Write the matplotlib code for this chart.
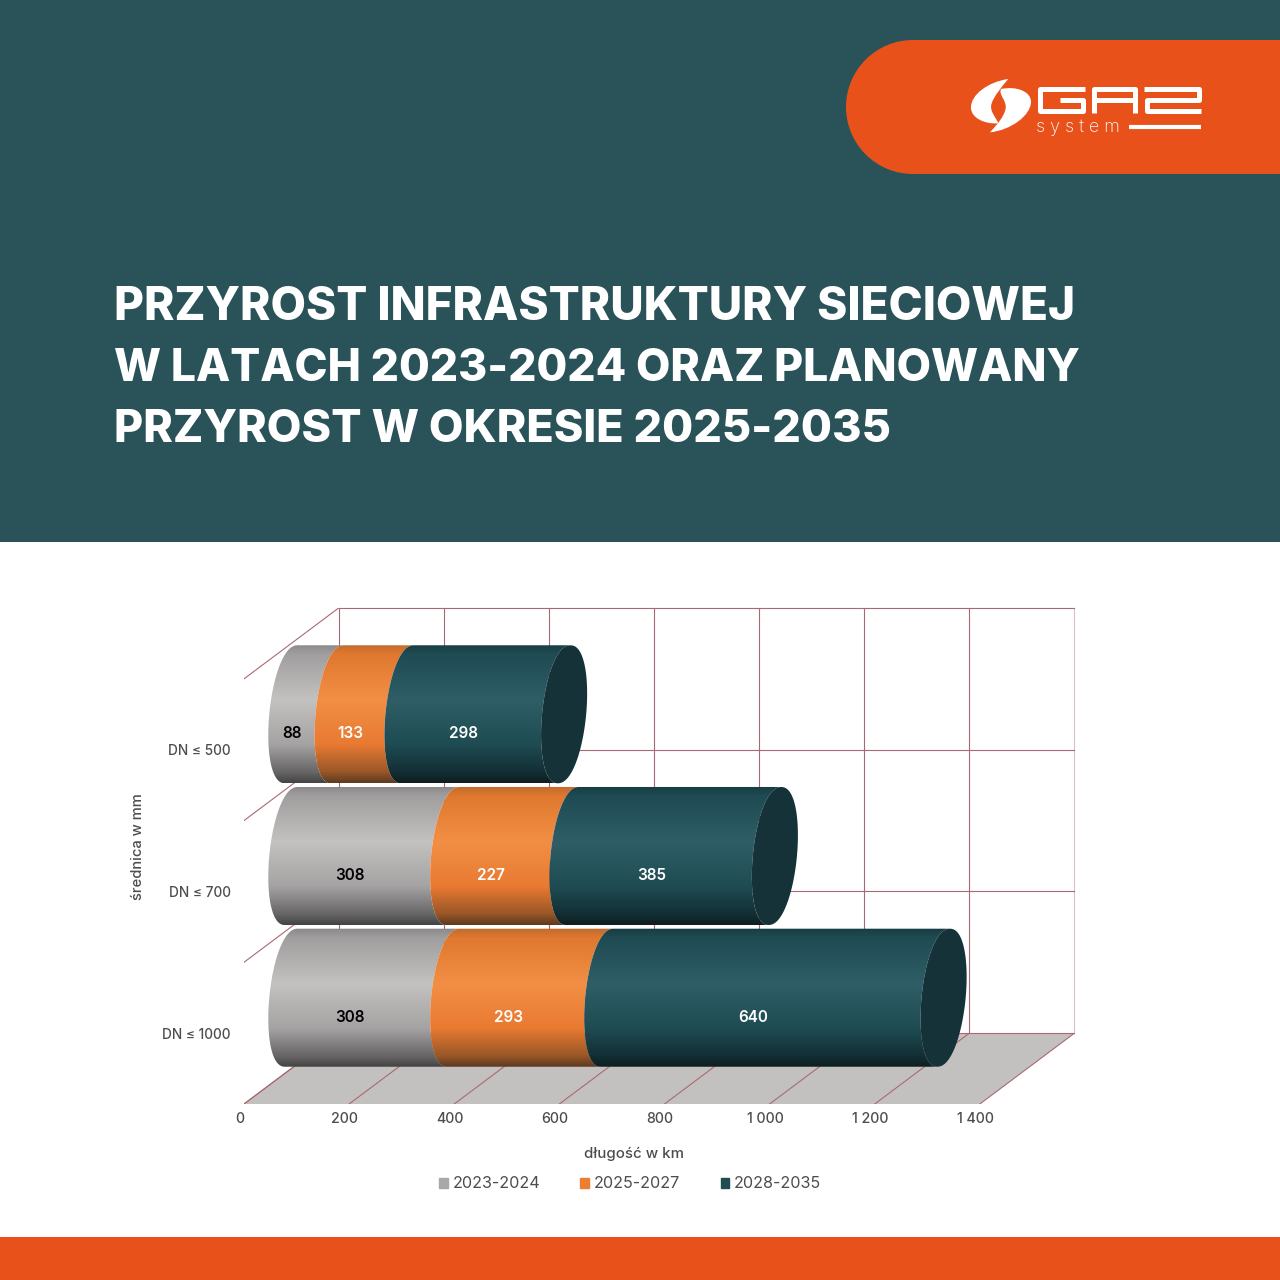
import numpy as np
import matplotlib
matplotlib.use('Agg')
import matplotlib.pyplot as plt
from matplotlib.colors import LinearSegmentedColormap
from matplotlib.patches import Patch, PathPatch, Polygon, Rectangle, Ellipse
from matplotlib.path import Path
from matplotlib.transforms import ScaledTranslation

plt.rcParams['font.family'] = ['Inter', 'DejaVu Sans']

# -------------------------------
# Data
# -------------------------------
categories = ['DN ≤ 1000', 'DN ≤ 700', 'DN ≤ 500']
series_names = ['2023-2024', '2025-2027', '2028-2035']
values_2023 = [308, 308, 88]
values_2025 = [293, 227, 133]
values_2028 = [640, 385, 298]
x_ticks = [0, 200, 400, 600, 800, 1000, 1200, 1400]
x_tick_labels = ['0', '200', '400', '600', '800', '1 000', '1 200', '1 400']
title_lines = ['PRZYROST INFRASTRUKTURY SIECIOWEJ',
               'W LATACH 2023-2024 ORAZ PLANOWANY',
               'PRZYROST W OKRESIE 2025-2035']

# -------------------------------
# Colours
# -------------------------------
TEAL_BG = '#2a5259'
ORANGE_BG = '#e8521a'
GRID = '#a86a72'
GRID_PALE = '#d9c3c6'
FLOOR = '#c3c1bf'
CAP = '#143238'
TEXT = '#4d4d4d'
legend_colors = ['#a9a8a8', '#ed7d31', '#1f4d53']
label_colors = ['#000000', '#ffffff', '#ffffff']
stops = [0.0, 0.07, 0.4, 0.72, 0.92, 1.0]
gradients = [
    ['#8a8888', '#a09e9e', '#c4c2c0', '#a5a3a3', '#686666', '#454444'],
    ['#c06b2d', '#e0782f', '#f28f45', '#e97a32', '#9a5727', '#5c3a20'],
    ['#173c42', '#1f4b53', '#2f5e66', '#1f4c53', '#122f34', '#0f1e20'],
]

# depth of the fake 3D box, in data units
DEPTH_X = 180
DEPTH_Y = 0.5
ELL_A = 42     # half width of cylinder end
ELL_SHEAR = 12
ELL_B = 0.487  # half height of cylinder
ELL_POW = 0.9  # <1 makes shoulders a bit fuller


def arc(cx, cy, t0, t1, n=80):
    t = np.radians(np.linspace(t0, t1, n))
    c = np.sign(np.cos(t)) * np.abs(np.cos(t)) ** ELL_POW
    return np.column_stack([cx + ELL_A * c + ELL_SHEAR * np.sin(t),
                            cy + ELL_B * np.sin(t)])


def logo_lobe(p):
    # p = start point followed by cubic bezier triples, in zoomed logo units
    pts = [(965 + x / 3, 75 + y / 3) for x, y in p]
    codes = [Path.MOVETO] + [Path.CURVE4] * (len(pts) - 1)
    return PathPatch(Path(pts, codes), fc='white', ec='none')


fig = plt.figure(figsize=(12.8, 12.8), dpi=100, facecolor='white')

# -------------------------------
# Page background, banner, logo, title
# -------------------------------
bg = fig.add_axes([0, 0, 1, 1])
bg.set_xlim(0, 1280)
bg.set_ylim(1280, 0)
bg.axis('off')
bg.add_patch(Rectangle((0, 0), 1280, 542, color=TEAL_BG, lw=0))
bg.add_patch(Rectangle((0, 1237), 1280, 43, color=ORANGE_BG, lw=0))
bg.add_patch(Rectangle((913, 40), 367, 134, color=ORANGE_BG, lw=0))
bg.add_patch(Ellipse((913, 107), 134, 134, color=ORANGE_BG, lw=0))

for line, y, size in zip(title_lines, [308, 369, 430], [33.05, 32.05, 32.35]):
    bg.text(114, y, line, color='white', fontsize=size, fontweight='heavy', va='center', ha='left')

# logo mark
bg.add_patch(logo_lobe([(130, 12), (70, 20), (15, 60), (18, 100),
                        (20, 130), (60, 148), (100, 145),
                        (92, 125), (72, 108), (80, 85),
                        (86, 65), (110, 35), (130, 12)]))
bg.add_patch(logo_lobe([(75, 172), (140, 165), (198, 120), (198, 80),
                        (198, 50), (155, 32), (108, 42),
                        (100, 60), (125, 75), (122, 100),
                        (118, 125), (95, 150), (75, 172)]))
for pts in [[(1085, 88.5), (1039.5, 88.5), (1039.5, 110.5), (1082.5, 110.5), (1082.5, 100), (1060, 100)],
            [(1093.5, 113), (1093.5, 88.5), (1134.5, 88.5), (1134.5, 113)], [(1093.5, 100), (1134.5, 100)],
            [(1144, 88.5), (1198.5, 88.5), (1198.5, 100), (1147, 100), (1147, 110.5), (1201, 110.5)]]:
    xs, ys = zip(*pts)
    bg.plot(xs, ys, color='white', lw=3.6, solid_joinstyle='round', solid_capstyle='butt')
bg.plot([1129, 1201], [127, 127], color='white', lw=3.0, solid_capstyle='butt')
bg.text(1036, 127.5, 's y s t e m', color='white', fontsize=12.9, fontweight='light', va='center', ha='left')

# -------------------------------
# Chart
# -------------------------------
ax = fig.add_axes([244 / 1280, (1280 - 1104) / 1280, 831 / 1280, 496 / 1280])
ax.patch.set_alpha(0)
for spine in ax.spines.values():
    spine.set_visible(False)

# floor
ax.add_patch(Polygon([(0, 0), (1400, 0), (1400 + DEPTH_X, DEPTH_Y), (DEPTH_X, DEPTH_Y)], color=FLOOR, lw=0, zorder=1))
# grid on back wall, floor and side wall
for k in x_ticks:
    ax.plot([k, k + DEPTH_X], [0, DEPTH_Y], color=GRID, lw=0.8, zorder=2)
    wall = GRID_PALE if k == 1400 else GRID
    ax.plot([k + DEPTH_X] * 2, [DEPTH_Y, 3 + DEPTH_Y], color=wall, lw=0.8, zorder=2, clip_on=False)
for i in range(4):
    ax.plot([0, DEPTH_X], [i, i + DEPTH_Y], color=GRID, lw=0.8, zorder=2)
    ax.plot([DEPTH_X, 1400 + DEPTH_X], [i + DEPTH_Y] * 2, color=GRID, lw=0.8, zorder=2, clip_on=False)

# stacked cylinders
series = [values_2023, values_2025, values_2028]
for i in range(len(categories)):
    cy = i + 0.5 + DEPTH_Y / 2
    start = 0
    for s, vals in enumerate(series):
        x0 = start + DEPTH_X / 2
        x1 = x0 + vals[i]
        verts = np.vstack([arc(x0, cy, 90, 270), arc(x1, cy, 270, 90)])
        clip = PathPatch(Path(np.vstack([verts, verts[0]])), transform=ax.transData, fc='none', ec='none')
        ax.add_patch(clip)
        cmap = LinearSegmentedColormap.from_list('g%d' % s, list(zip(stops, gradients[s])))
        im = ax.imshow(np.linspace(0, 1, 256).reshape(-1, 1), cmap=cmap, aspect='auto',
                       extent=(x0 - 60, x1 + 60, cy - ELL_B, cy + ELL_B), origin='upper',
                       interpolation='bilinear', vmin=0, vmax=1, zorder=3 + s * 0.1 + (2 - i))
        im.set_clip_path(clip)
        # value label sits in front of the middle of the cylinder
        ax.text(start + vals[i] / 2 + DEPTH_X / 4 + 3, i + 0.5 + DEPTH_Y / 4 - 0.014, str(vals[i]),
                color=label_colors[s], fontsize=11, fontweight='semibold', ha='center', va='center', zorder=10)
        start += vals[i]
    end = start + DEPTH_X / 2
    ax.add_patch(Polygon(arc(end, cy, 0, 360), color=CAP, lw=0, zorder=3.5 + (2 - i)))

ax.set_xlim(0, 1581)
ax.set_ylim(0, 3.5)

# axes labels
ax.set_xticks(x_ticks)
ax.set_xticklabels(x_tick_labels)
ax.set_yticks([i + 0.5 for i in range(len(categories))])
ax.set_yticklabels(categories)
ax.tick_params(axis='x', length=0, pad=5.7, labelsize=10.2, labelcolor=TEXT)
ax.tick_params(axis='y', length=0, pad=9.4, labelsize=9.8, labelcolor=TEXT)
for lab in ax.get_xticklabels() + ax.get_yticklabels():
    lab.set_fontweight('medium')
shift = ScaledTranslation(-4.5 / 100, 0, fig.dpi_scale_trans)
for lab in ax.get_xticklabels():
    lab.set_transform(lab.get_transform() + shift)

bg.text(634, 1153.5, 'długość w km', color=TEXT, fontsize=10.8, fontweight='medium', ha='center', va='center')
bg.text(138, 847, 'średnica w mm', color=TEXT, fontsize=10.6, fontweight='medium', ha='center', va='center', rotation=90)

handles = [Patch(color=c, label=n) for c, n in zip(legend_colors, series_names)]
fig.legend(handles=handles, loc='center', bbox_to_anchor=(630 / 1280, (1280 - 1184) / 1280), ncol=3,
           frameon=False, fontsize=11.6, labelcolor=TEXT, handlelength=0.55, handleheight=0.55,
           handletextpad=0.3, columnspacing=2.5, borderpad=0)

fig.savefig('out.png', dpi=100)
